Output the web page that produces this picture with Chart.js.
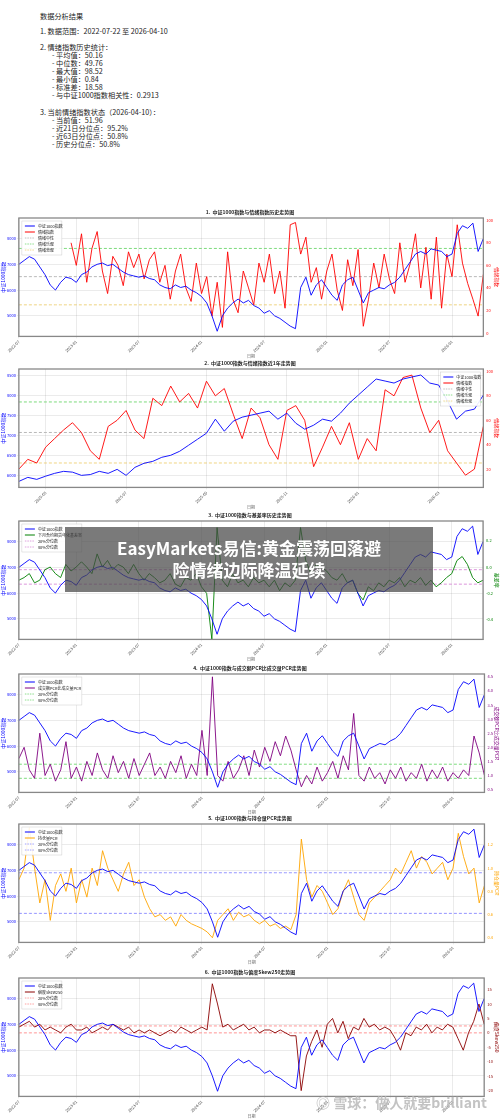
<!DOCTYPE html>
<html><head><meta charset="utf-8">
<script src="https://cdn.jsdelivr.net/npm/chart.js@4.4.1/dist/chart.umd.min.js"></script>
<style>
body{margin:0;width:500px;height:1120px;background:#fff;position:relative;overflow:hidden;font-family:"Noto Sans CJK SC",sans-serif}
.t{position:absolute;font-size:7.2px;line-height:8px;color:#222;white-space:nowrap}
.box{position:absolute;left:0;width:500px;height:152px}
#banner{position:absolute;left:65px;top:527px;width:368px;height:65px;background:rgba(70,70,70,0.72);color:#fff;font-weight:bold;font-size:17px;line-height:22px;text-align:center;padding-top:10px;box-sizing:border-box}
#wm{position:absolute;left:316px;top:1092px;font-size:14px;color:rgba(185,185,185,0.85);font-weight:bold;white-space:nowrap}
</style></head><body>
<div id="head"></div>
<div class="box" style="top:207px"><canvas id="c1"></canvas></div>
<div class="box" style="top:358px"><canvas id="c2"></canvas></div>
<div class="box" style="top:510px"><canvas id="c3"></canvas></div>
<div class="box" style="top:663px"><canvas id="c4"></canvas></div>
<div class="box" style="top:813px"><canvas id="c5"></canvas></div>
<div class="box" style="top:967px"><canvas id="c6"></canvas></div>
<div id="banner">EasyMarkets易信:黄金震荡回落避<br>险情绪边际降温延续</div>
<div id="wm">◎ 雪球：做人就要brilliant</div>
<script>
// header text: [x, y, text]
const headLines = [
    [40, 12, '数据分析结果'],
    [40, 27, '1.  数据范围：2022-07-22 至 2026-04-10'],
    [40, 43, '2.  情绪指数历史统计：'],
    [52, 51, '- 平均值：50.16'],
    [52, 59, '- 中位数：49.76'],
    [52, 67, '- 最大值：98.52'],
    [52, 75, '- 最小值：0.84'],
    [52, 83, '- 标准差：18.58'],
    [52, 91, '- 与中证1000指数相关性：0.2913'],
    [40, 108, '3.  当前情绪指数状态（2026-04-10）：'],
    [52, 116, '- 当前值：51.96'],
    [52, 124, '- 近21日分位点：95.2%'],
    [52, 132, '- 近63日分位点：50.8%'],
    [52, 140, '- 历史分位点：50.8%']
];
const head = document.getElementById('head');
headLines.forEach(([x, y, s]) => {
    const d = document.createElement('div');
    d.className = 't'; d.style.left = x + 'px'; d.style.top = y + 'px'; d.textContent = s;
    head.appendChild(d);
});

// half-month periods, 2022-07 .. 2026-04
const months = [];
for (let y = 2022; y <= 2026; y++) for (let m = 1; m <= 12; m++) {
    if ((y === 2022 && m < 7) || (y === 2026 && m > 4)) continue;
    months.push(y + '-' + String(m).padStart(2, '0'));
}
const halfLabels = [];
months.forEach(m => { halfLabels.push(m + 'a'); halfLabels.push(m + 'b'); });
const labels = halfLabels.slice(1, 91);

const csi1000 = [7000,7150,7300,7200,6900,6600,6200,6000,6300,6500,6450,6300,
    6600,6700,6900,7000,7050,6950,7000,6850,6700,6600,6550,6500,
    6550,6450,6400,6200,6100,6050,6200,6100,6150,6000,5900,5750,
    5500,5000,4400,5000,5300,5500,5650,5500,5600,5400,5300,5100,
    5200,5000,4900,4750,4600,4500,6100,6500,5800,6200,6400,6100,
    5800,5600,6200,6400,6500,6000,5500,5900,6000,6100,6050,6200,
    6300,6500,6800,7100,7400,7500,7400,7600,7550,7500,7300,7400,
    8200,8500,8400,8600,7500,8000];
const sentiment = [null,null,null,null,null,null,null,null,null,null,
    80,60,88,45,75,90,55,35,68,60, 42,72,58,70,48,65,72,45,60,30,
    55,70,40,28,62,35,50,15,45,5, 72,30,18,55,40,25,62,45,70,35,
    55,22,96,98,70,85,45,58,30,55, 70,38,20,65,42,74,6,30,62,40,
    70,48,35,80,45,62,88,40,76,30, 85,22,70,50,96,62,44,30,15,52];
const basis = [-0.1,-0.08,-0.05,-0.12,-0.1,-0.02,0.0,-0.05,-0.08,0.02,-0.03,0.0,
    0.04,0.0,-0.05,0.1,0.0,0.05,-0.02,0.02,0.0,-0.05,0.02,-0.05,
    -0.1,-0.05,-0.08,-0.12,-0.1,-0.05,-0.13,-0.15,-0.08,-0.1,-0.05,-0.15,
    -0.2,-0.55,0.3,-0.1,-0.15,-0.05,-0.12,-0.1,-0.15,-0.08,-0.12,-0.1,
    -0.15,-0.1,-0.18,-0.12,-0.15,-0.1,0.3,0.05,-0.05,0.02,0.0,-0.03,
    -0.08,-0.1,-0.05,-0.12,-0.1,-0.2,-0.25,-0.15,-0.18,-0.12,-0.15,-0.1,
    -0.12,-0.08,-0.15,-0.1,-0.12,-0.08,-0.14,-0.1,-0.15,-0.12,-0.08,-0.05,
    0.05,0.08,0.02,-0.08,-0.12,-0.1];
const amtPcr = [1.6,2.0,1.2,0.9,2.5,1.0,1.4,0.8,1.2,2.2,0.9,1.3,
    0.8,1.5,1.0,1.8,1.2,0.9,1.7,1.1,1.5,0.9,1.6,1.0,
    1.4,1.8,1.0,1.3,0.9,1.5,1.1,1.7,0.9,1.4,1.0,2.6,
    1.0,4.5,1.0,0.8,1.5,0.9,1.2,1.7,1.0,1.9,1.3,2.0,
    1.5,2.2,1.7,2.4,1.9,1.2,0.6,1.0,0.7,1.3,0.8,1.1,
    1.5,0.9,1.7,1.2,3.2,1.0,0.8,1.3,0.9,1.1,0.7,1.2,
    0.9,1.3,0.8,1.1,0.9,1.4,0.8,1.2,0.9,1.3,0.8,1.1,
    0.9,1.2,1.0,2.4,1.8,1.0];
const oiPcr = [0.9,1.0,1.35,1.0,0.7,0.9,0.55,0.85,0.95,0.8,1.0,0.7,
    0.9,0.75,1.0,0.85,1.15,1.0,0.9,0.8,0.95,1.05,0.85,0.9,
    0.75,0.65,0.58,0.6,0.55,0.58,0.5,0.6,0.55,0.52,0.5,0.48,
    0.45,0.4,0.55,0.6,0.65,0.55,0.62,0.58,0.6,0.55,0.52,0.55,
    0.5,0.52,0.48,0.5,0.47,0.6,1.25,0.9,0.75,0.85,0.8,0.7,
    0.6,0.65,0.8,0.9,0.75,0.6,0.55,0.7,0.75,0.8,0.85,0.9,
    1.0,0.95,1.05,1.15,1.0,1.1,1.05,0.95,1.0,1.05,0.9,1.0,
    1.3,1.1,0.95,1.0,0.7,0.85];
const skew = [2,3,4,2,3,1,2,1,0,2,3,1, 1,2,0,1,2,1,3,2,1,2,0,1,
    0,1,0,-1,0,1,0,2,1,0,1,2, 1,17,10,2,3,1,2,3,1,2,0,1,
    1,0,1,0,-1,-1,-20,-8,-3,1,-5,3, 5,0,4,-2,2,1,5,2,3,1,2,1,
    -2,-6,0,-1,2,1,3,0,2,1,3,2, -2,-6,0,4,10,3];

// last year, weekly
const weekMonths = ['2025-04','2025-04','2025-04','2025-05','2025-05','2025-05','2025-05','2025-05',
    '2025-06','2025-06','2025-06','2025-06','2025-07','2025-07','2025-07','2025-07','2025-08','2025-08','2025-08','2025-08','2025-08',
    '2025-09','2025-09','2025-09','2025-09','2025-10','2025-10','2025-10','2025-10','2025-10','2025-11','2025-11','2025-11','2025-11',
    '2025-12','2025-12','2025-12','2025-12','2026-01','2026-01','2026-01','2026-01','2026-01','2026-02','2026-02','2026-02','2026-02',
    '2026-03','2026-03','2026-03','2026-03','2026-04','2026-04'];
const csi1000Year = [5850,5950,5900,5980,6050,6100,6080,6000,6020,6100,6050,6150,6000,6200,6300,6350,6450,6500,6600,6750,
    6900,7050,7400,7100,7350,7450,7500,7550,7600,7400,7550,7300,7150,7250,7400,7350,7550,7800,8000,8200,
    8400,8350,8300,8400,8450,8500,8300,8250,7850,7400,7600,7650,8000];
const sentimentYear = [20,28,25,38,45,52,58,50,35,28,55,60,68,52,45,78,72,88,75,82,70,92,80,86,65,45,70,62,40,28,
    68,72,60,22,38,55,40,58,28,45,35,85,80,95,97,70,50,60,35,25,15,20,55];

const SENT_HIGH = 75, SENT_MID = 50, SENT_LOW = 25;
const BASIS_Q = [-0.02, -0.13];
const AMT_Q = [0.9, 1.4];
const OI_Q = [0.61, 0.96];
const SKEW_Q = [0, 2.4];

// tick values
const idxTicks = [5000, 6000, 7000, 8000];
const idxYearTicks = [6000, 6500, 7000, 7500, 8000, 8500];
const sentTicks = [0, 20, 40, 60, 80, 100];
const sentYearTicks = [20, 40, 60, 80, 100];
const basisTicks = [-0.4, -0.2, 0.0, 0.2];
const amtTicks = [0.5, 1.0, 1.5, 2.0, 2.5, 3.0, 3.5, 4.0, 4.5];
const oiTicks = [0.4, 0.6, 0.8, 1.0, 1.2];
const skewTicks = [-20, -15, -10, -5, 0, 5, 10, 15];

const F = { family: 'Noto Sans CJK SC', size: 4 };

const frame = {
    id: 'frame',
    afterDraw(c) {
        const a = c.chartArea, g = c.ctx;
        g.save(); g.strokeStyle = '#888'; g.lineWidth = 1.3;
        g.strokeRect(a.left, a.top, a.right - a.left, a.bottom - a.top);
        // legend box
        const sets = c.data.datasets;
        const w = c.options.legendWidth, h = sets.length * 6 + 4;
        const x = c.options.legendRight ? a.right - w - 3 : a.left + 3, y = a.top + 3;
        g.fillStyle = 'rgba(255,255,255,0.9)'; g.strokeStyle = '#ccc'; g.lineWidth = 0.5;
        g.fillRect(x, y, w, h); g.strokeRect(x, y, w, h);
        g.font = '4px "Noto Sans CJK SC"'; g.textBaseline = 'middle';
        sets.forEach((d, i) => {
            const ly = y + 5 + i * 6;
            g.strokeStyle = d.borderColor; g.lineWidth = d.borderDash.length ? 0.6 : 1;
            g.setLineDash(d.borderDash.length ? [1.5, 1] : []);
            g.beginPath(); g.moveTo(x + 3, ly); g.lineTo(x + 13, ly); g.stroke();
            g.setLineDash([]);
            g.fillStyle = '#222'; g.fillText(d.label, x + 16, ly);
        });
        g.restore();
    }
};

function line(label, data, color, axis, dash) {
    return { label, data, borderColor: color, backgroundColor: color, yAxisID: axis,
        borderWidth: dash ? 0.7 : 0.9, borderDash: dash ? [3, 2] : [], pointRadius: 0, tension: 0 };
}
function ref(label, value, n, color) {
    return line(label, new Array(n).fill(value), color, 'y1', true);
}
const setTicks = list => axis => { axis.ticks = list.map(v => ({ value: v })); };
const plain = v => String(v);
const oneDec = v => v.toFixed(1);

function makeChart(id, title, xLabels, sets, ax, tickFn, legendRight, legendWidth) {
    const gridCol = function (ctx) {
        const s = ctx.chart.scales.x;
        return tickFn.call(s, ctx.tick ? ctx.tick.value : 0, ctx.index) ? 'rgba(0,0,0,0.08)' : 'rgba(0,0,0,0)';
    };
    new Chart(document.getElementById(id), {
        type: 'line',
        data: { labels: xLabels, datasets: sets },
        options: {
            responsive: true, maintainAspectRatio: false, animation: false,
            legendRight, legendWidth,
            layout: { padding: { left: 0, right: 0, top: 0, bottom: 0 } },
            plugins: {
                title: { display: true, text: title, font: { ...F, size: 5 }, color: '#222', padding: { top: 2, bottom: 3 } },
                legend: { display: false }
            },
            scales: {
                x: { ticks: { font: F, maxRotation: 45, minRotation: 45, autoSkip: false, color: '#444', callback: tickFn, padding: 1 },
                    grid: { color: gridCol, tickLength: 2 },
                    title: { display: true, text: '日期', font: F, padding: 0 } },
                y: { position: 'left', min: ax.lmin, max: ax.lmax, afterBuildTicks: setTicks(ax.lticks),
                    ticks: { font: F, color: 'blue', padding: 1, callback: plain },
                    grid: { color: 'rgba(0,0,0,0.08)', tickLength: 2 },
                    title: { display: true, text: '中证1000指数', color: 'blue', font: { ...F, size: 5 }, padding: 0 } },
                y1: { position: 'right', min: ax.min, max: ax.max, afterBuildTicks: setTicks(ax.ticks),
                    ticks: { font: F, color: ax.color, padding: 1, callback: ax.fmt || plain },
                    grid: { display: false, tickLength: 2 },
                    title: { display: true, text: ax.title, color: ax.color, font: { ...F, size: 5 }, padding: 0 } }
            }
        },
        plugins: [frame]
    });
}

const fullTicks = function (v, i) {
    const l = labels[i];
    if (i === 0) return '2022-07';
    return (l.endsWith('01a') || l.endsWith('07a')) ? l.slice(0, 7) : '';
};
const yearTicks = function (v, i) {
    const l = weekMonths[i];
    const prev = i > 0 ? weekMonths[i - 1] : '';
    const m = +l.slice(5, 7);
    return (l !== prev && m % 2 === 1) ? l : '';
};
const n = labels.length, n2 = weekMonths.length;
const idxAxis = { lmin: 4200, lmax: 8800, lticks: idxTicks };

makeChart('c1', '1.  中证1000指数与情绪指数历史走势图', labels, [
    line('中证1000指数', csi1000, 'blue', 'y'),
    line('情绪指数', sentiment, 'red', 'y1'),
    ref('情绪中性', SENT_MID, n, '#999'),
    ref('情绪乐观', SENT_HIGH, n, '#4c4'),
    ref('情绪悲观', SENT_LOW, n, '#e8c04a')
], { ...idxAxis, min: -3, max: 102, ticks: sentTicks, color: 'red', title: '情绪指数' }, fullTicks, false, 40);

makeChart('c2', '2.  中证1000指数与情绪指数近1年走势图', weekMonths, [
    line('中证1000指数', csi1000Year, 'blue', 'y'),
    line('情绪指数', sentimentYear, 'red', 'y1'),
    ref('情绪中性', SENT_MID, n2, '#999'),
    ref('情绪乐观', SENT_HIGH, n2, '#4c4'),
    ref('情绪悲观', SENT_LOW, n2, '#e8c04a')
], { lmin: 5700, lmax: 8650, lticks: idxYearTicks, min: 5, max: 102, ticks: sentYearTicks, color: 'red', title: '情绪指数' }, yearTicks, true, 40);

makeChart('c3', '3.  中证1000指数与基差率历史走势图', labels, [
    line('中证1000指数', csi1000, 'blue', 'y'),
    line('下月合约期货年化基差率', basis, 'green', 'y1'),
    ref('20%分位数', BASIS_Q[1], n, '#c6c'),
    ref('80%分位数', BASIS_Q[0], n, '#c6c')
], { ...idxAxis, min: -0.55, max: 0.35, ticks: basisTicks, fmt: oneDec, color: 'green', title: '基差率' }, fullTicks, false, 60);

makeChart('c4', '4.  中证1000指数与成交额PCR比成交量PCR走势图', labels, [
    line('中证1000指数', csi1000, 'blue', 'y'),
    line('成交额PCR比成交量PCR', amtPcr, 'purple', 'y1'),
    ref('20%分位数', AMT_Q[0], n, '#4c4'),
    ref('80%分位数', AMT_Q[1], n, '#4c4')
], { ...idxAxis, min: 0.4, max: 4.6, ticks: amtTicks, fmt: oneDec, color: 'purple', title: '成交额PCR比成交量PCR' }, fullTicks, false, 60);

makeChart('c5', '5.  中证1000指数与持仓量PCR走势图', labels, [
    line('中证1000指数', csi1000, 'blue', 'y'),
    line('持仓量PCR', oiPcr, 'orange', 'y1'),
    ref('20%分位数', OI_Q[0], n, '#66f'),
    ref('80%分位数', OI_Q[1], n, '#66f')
], { ...idxAxis, min: 0.36, max: 1.38, ticks: oiTicks, fmt: oneDec, color: 'orange', title: '持仓量PCR' }, fullTicks, false, 40);

makeChart('c6', '6.  中证1000指数与偏度Skew250走势图', labels, [
    line('中证1000指数', csi1000, 'blue', 'y'),
    line('偏度Skew250', skew, 'darkred', 'y1'),
    ref('20%分位数', SKEW_Q[0], n, '#f66'),
    ref('80%分位数', SKEW_Q[1], n, '#f66')
], { ...idxAxis, min: -22, max: 19, ticks: skewTicks, color: 'darkred', title: '偏度Skew250' }, fullTicks, false, 40);
</script>
</body></html>
